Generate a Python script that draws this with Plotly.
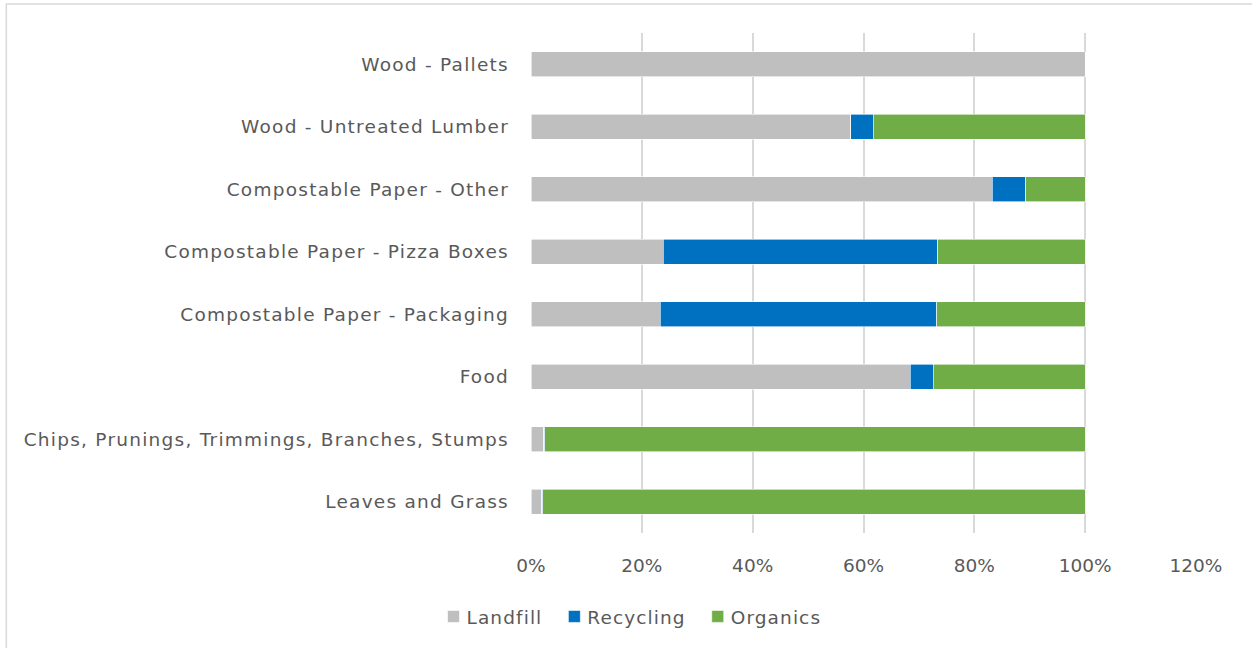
import plotly.graph_objects as go

categories = [
    "Leaves and Grass",
    "Chips, Prunings, Trimmings, Branches, Stumps",
    "Food",
    "Compostable Paper - Packaging",
    "Compostable Paper - Pizza Boxes",
    "Compostable Paper - Other",
    "Wood - Untreated Lumber",
    "Wood - Pallets",
]
landfill = [0.019, 0.023, 0.684, 0.233, 0.239, 0.832, 0.577, 1.000]
recycling = [0.002, 0.002, 0.042, 0.499, 0.495, 0.061, 0.041, 0.000]
organics = [0.979, 0.975, 0.274, 0.268, 0.266, 0.107, 0.382, 0.000]

series = [
    ("Landfill", landfill, "#bfbfbf"),
    ("Recycling", recycling, "#0070c0"),
    ("Organics", organics, "#70ad47"),
]

FONT = "DejaVu Sans"
TXT = "#595959"
FS = 18.5

fig = go.Figure()
for name, vals, color in series:
    fig.add_trace(go.Bar(
        y=categories, x=vals, name=name, orientation="h",
        marker=dict(color=color, line=dict(color="white", width=0.6)),
    ))

fig.update_layout(
    barmode="stack",
    bargap=0.6,
    width=1252, height=648,
    margin=dict(l=531, r=56, t=33, b=115),
    paper_bgcolor="white", plot_bgcolor="white",
    font=dict(family=FONT, size=FS, color=TXT),
    showlegend=True,
    legend=dict(
        orientation="h", xref="container", yref="container",
        x=0.506, xanchor="center", y=0.048, yanchor="middle",
        font=dict(family=FONT, size=18.4, color=TXT),
        traceorder="normal", itemwidth=30,
    ),
    xaxis=dict(
        range=[0, 1.2], tickvals=[0, 0.2, 0.4, 0.6, 0.8, 1.0, 1.2],
        tickformat=".0%", showgrid=True, gridcolor="#d9d9d9", gridwidth=1.5,
        zeroline=False, showline=False, ticks="", ticklabelstandoff=19,
        tickfont=dict(family=FONT, size=FS, color=TXT),
    ),
    yaxis=dict(
        showgrid=False, zeroline=False, showline=False, ticks="",
        ticklabelstandoff=21,
        tickfont=dict(family=FONT, size=FS, color=TXT),
    ),
    shapes=[dict(
        type="rect", xref="paper", yref="paper",
        x0=-0.789, x1=1.3, y0=-0.4, y1=1.058,
        line=dict(color="#d9d9d9", width=1.5), fillcolor="rgba(0,0,0,0)",
        layer="below",
    )],
)

post = """
document.body.style.margin = '0';
var st = document.createElement('style');
st.textContent = '.ytick text { letter-spacing: 1.25px; } .legendtext { letter-spacing: 1.1px; transform: translateX(-7px); }';
document.head.appendChild(st);
var gd = document.getElementById('{plot_id}');
Plotly.relayout(gd, {'legend.font.size': 18.5});
"""

fig.write_html("out.html", post_script=post, config={"displayModeBar": False})
